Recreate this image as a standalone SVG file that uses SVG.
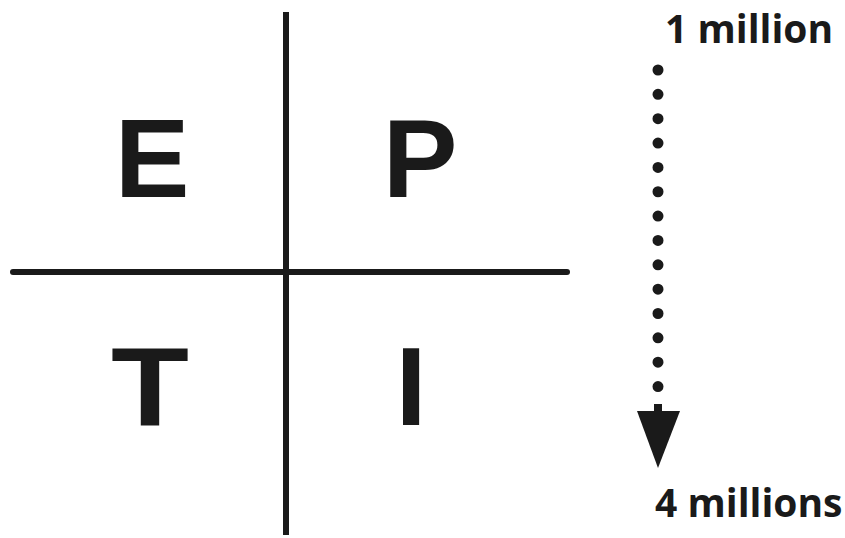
<svg xmlns="http://www.w3.org/2000/svg" width="845" height="538" viewBox="0 0 845 538">
<style>
.big{font-family:"Liberation Sans",Arial,sans-serif;font-weight:bold;font-size:112px;fill:#1a1a1a;text-anchor:middle}
.lbl{font-family:"Open Sans","Liberation Sans",sans-serif;font-weight:bold;font-size:39px;fill:#1a1a1a}
.axis{stroke:#1a1a1a;stroke-width:6;fill:none}
</style>
<rect width="845" height="538" fill="#ffffff"/>
<g id="connectors">
<line class="axis" x1="286" y1="12" x2="286" y2="535"/>
<line class="axis" x1="13" y1="272" x2="567" y2="272" stroke-linecap="round"/>
<line x1="658" y1="70" x2="658" y2="387" stroke="#1a1a1a" stroke-width="11" stroke-linecap="round" stroke-dasharray="0 24.35"/>
<rect x="654" y="404" width="8" height="8" fill="#1a1a1a"/>
<polygon points="637,411 680,411 658,468" fill="#1a1a1a"/>
</g>
<g id="node-E"><text class="big" x="152" y="197">E</text></g>
<g id="node-P"><text class="big" x="420" y="197">P</text></g>
<g id="node-T"><text class="big" x="150" y="425" textLength="78" lengthAdjust="spacingAndGlyphs">T</text></g>
<g id="node-I"><text class="big" x="411" y="425">I</text></g>
<g id="label-top"><text class="lbl" x="665" y="43">1 million</text></g>
<g id="label-bottom"><text class="lbl" x="655" y="517">4 millions</text></g>
</svg>
